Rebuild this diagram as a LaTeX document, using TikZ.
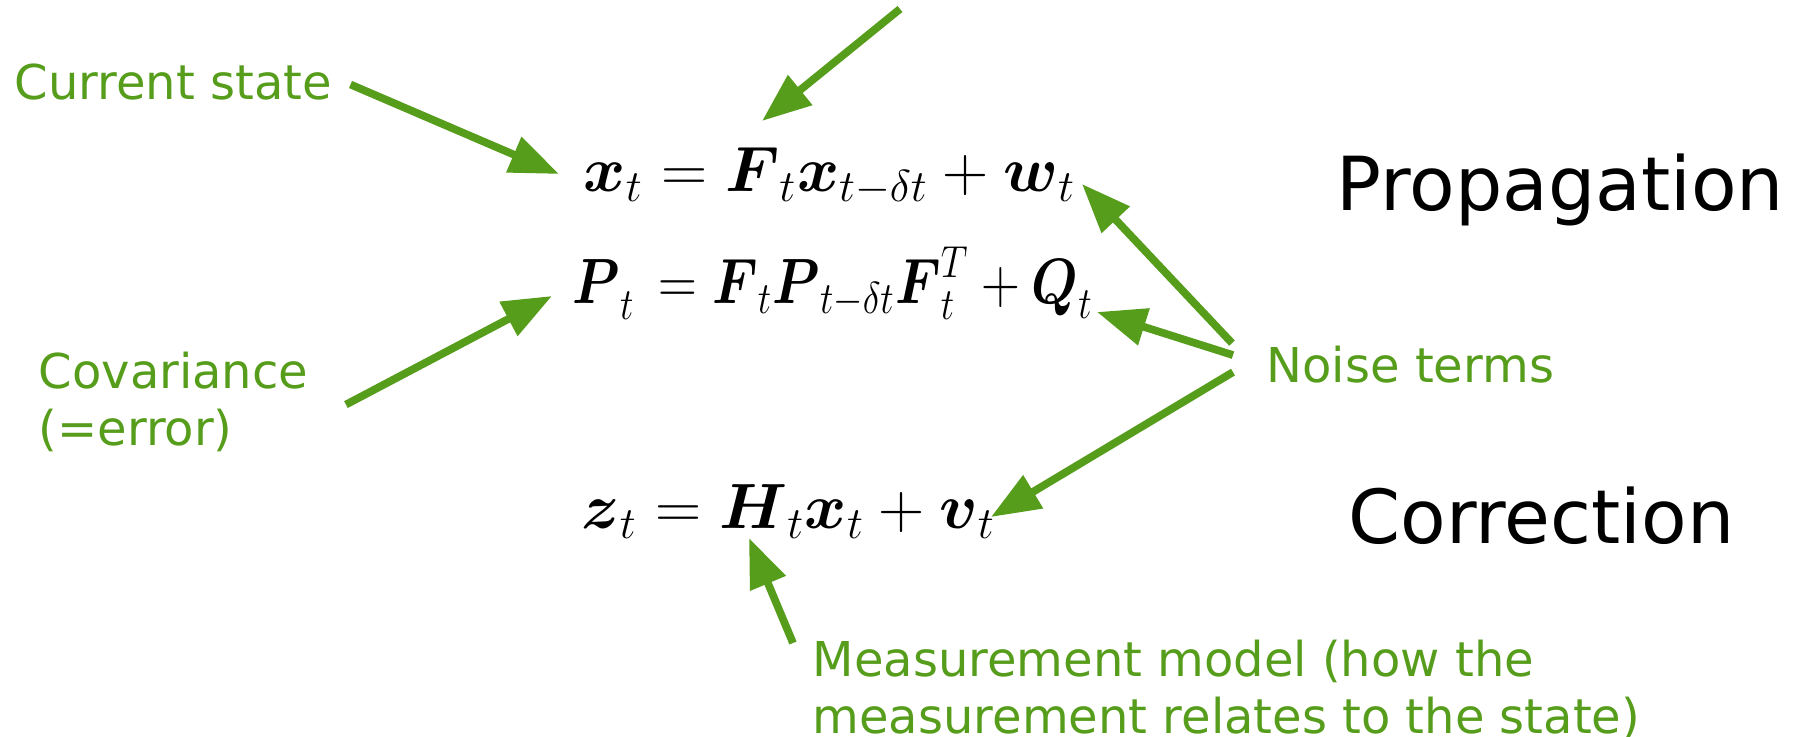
\RequirePackage{fix-cm}
\documentclass[tikz,border=0pt]{standalone}
\usepackage{amsmath}
\usepackage[no-math]{fontspec}
\setmainfont{DejaVu Sans}
\usetikzlibrary{arrows.meta}
\definecolor{notegreen}{RGB}{87,157,28}
\tikzset{
  note/.style={text=notegreen, font=\fontsize{13.65}{16.2}\selectfont, inner sep=0pt, align=left},
  title/.style={font=\fontsize{21.2}{25}\selectfont, inner sep=0pt},
  eqn/.style={font=\fontsize{18.2}{21}\selectfont, inner sep=0pt},
  pointer/.style={draw=notegreen, line width=2.2pt, -{Triangle[length=14pt,width=10.5pt,fill=notegreen]}},
}
\begin{document}
\begin{tikzpicture}[x=0.01cm, y=-0.01cm]
    \useasboundingbox (0,0) rectangle (1802,737);

    % Gleichungen
    \node[eqn, anchor=base west] (stateeq) at (583,192)
        {$\boldsymbol{x}_t = \boldsymbol{F}_t\boldsymbol{x}_{t-\delta t} + \boldsymbol{w}_t$};
    \node[eqn, anchor=base west, xscale=0.84, transform shape] (coveq) at (572,304)
        {$\boldsymbol{P}_t^{}\, = \boldsymbol{F}_t\boldsymbol{P}_{t-\delta t}\boldsymbol{F}_t^T + \boldsymbol{Q}_t$};
    \node[eqn, anchor=base west] (measeq) at (581,529)
        {$\boldsymbol{z}_t = \boldsymbol{H}_t\boldsymbol{x}_t + \boldsymbol{v}_t$};

    % Titel
    \node[title, anchor=base west] (propagation) at (1336,211) {Propagation};
    \node[title, anchor=base west] (correction) at (1348,544) {Correction};

    % Beschriftungen
    \node[note, anchor=base west] (current) at (14,100) {Current state};
    \node[note, anchor=north west] (covariance) at (38,351) {Covariance\\(=error)};
    \node[note, anchor=base west] (noise) at (1266,383) {Noise terms};
    \node[note, anchor=north west] (model) at (812,639)
        {Measurement model (how the\\measurement relates to the state)};

    % Pfeilspitzen
    \coordinate (xtip) at (559,174);
    \coordinate (ptip) at (552,296);
    \coordinate (wtip) at (1082,184);
    \coordinate (qtip) at (1097,312);
    \coordinate (vtip) at (991,517);
    \coordinate (htip) at (749,538);
    \coordinate (topfrom) at (900,9);
    \coordinate (toptip) at (762,121);

    % Pfeile
    \draw[pointer] (topfrom) -- (toptip);
    \draw[pointer] ([shift={(18,2)}]current.east) -- (xtip);
    \draw[pointer] ([shift={(37,3)}]covariance.east) -- (ptip);
    \draw[pointer] ([shift={(-34,-22)}]noise.west) -- (wtip);
    \draw[pointer] ([shift={(-33,-10)}]noise.west) -- (qtip);
    \draw[pointer] ([shift={(-33,7)}]noise.west) -- (vtip);
    \draw[pointer] ([shift={(-19,4)}]model.north west) -- (htip);
\end{tikzpicture}
\end{document}
